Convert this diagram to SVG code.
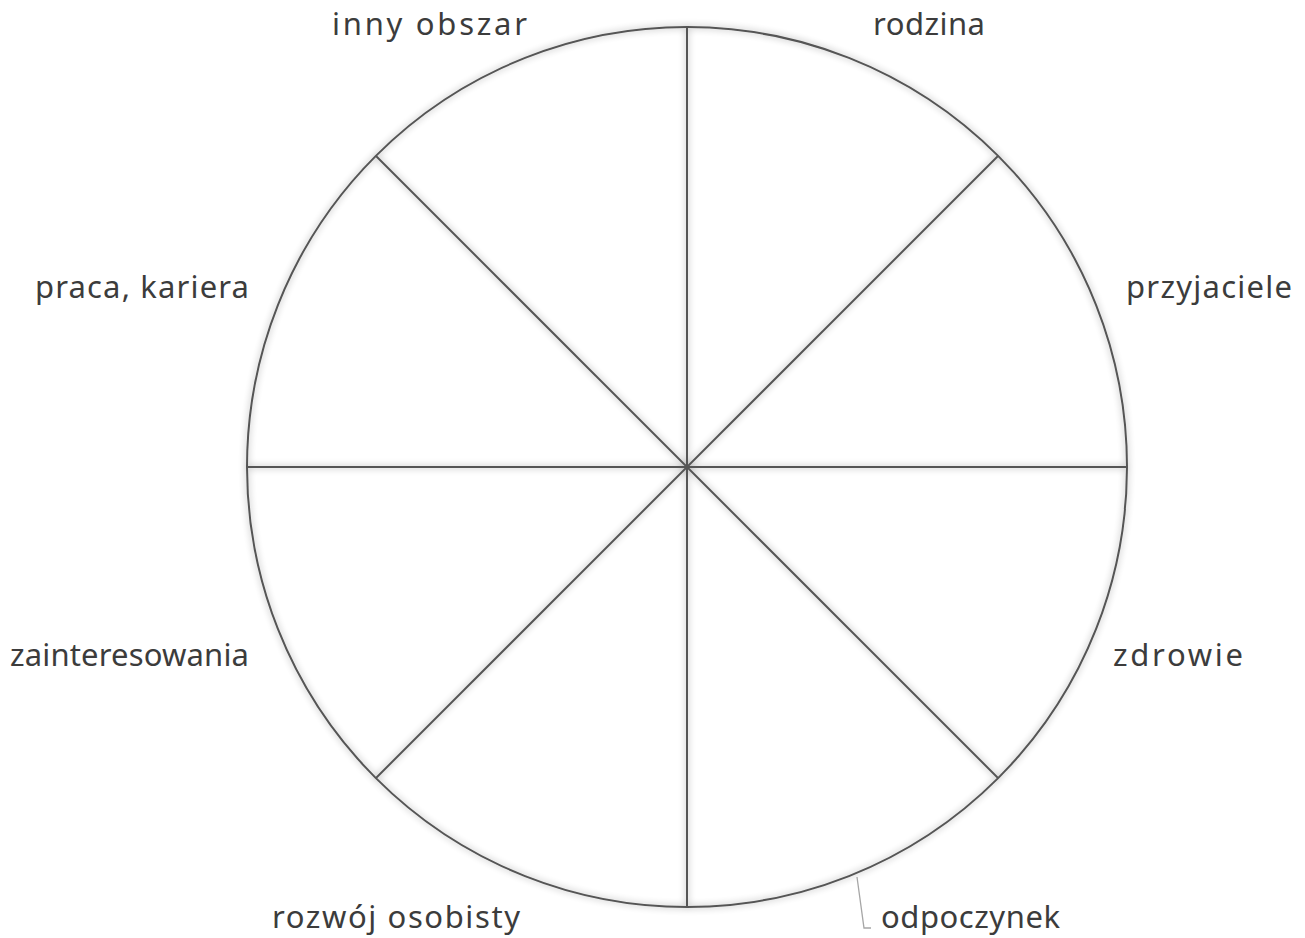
<svg xmlns="http://www.w3.org/2000/svg" width="1305" height="938" viewBox="0 0 1305 938">
<defs>
<filter id="sh" x="-10%" y="-10%" width="120%" height="120%">
<feGaussianBlur in="SourceAlpha" stdDeviation="3.5" result="b"/>
<feComponentTransfer in="b" result="s"><feFuncA type="linear" slope="0.4"/></feComponentTransfer>
<feMerge><feMergeNode in="s"/><feMergeNode in="SourceGraphic"/></feMerge>
</filter>
<style>
.ln{stroke:#555;stroke-width:2;fill:none}
.lb{font-family:"Noto Sans","Open Sans",sans-serif;font-size:31px;fill:#3c3c3c}
.ld{stroke:#a6a6a6;stroke-width:1.3;fill:none}
</style>
</defs>
<rect width="1305" height="938" fill="#fff"/>
<g id="wheel" filter="url(#sh)">
<circle class="ln" cx="687" cy="467" r="440" fill="#fff"/>
<line class="ln" x1="687" y1="27" x2="687" y2="907"/>
<line class="ln" x1="247" y1="467" x2="1127" y2="467"/>
<line class="ln" x1="376" y1="156" x2="998" y2="778"/>
<line class="ln" x1="998" y1="156" x2="376" y2="778"/>
</g>
<g id="connectors">
<polyline class="ld" points="857,877 864,928 871,928"/>
</g>
<g id="inny-obszar"><text class="lb" x="332" y="35" textLength="195">inny obszar</text></g>
<g id="rodzina"><text class="lb" x="873" y="35" textLength="112">rodzina</text></g>
<g id="praca-kariera"><text class="lb" x="35" y="298" textLength="214">praca, kariera</text></g>
<g id="przyjaciele"><text class="lb" x="1126" y="298" textLength="166">przyjaciele</text></g>
<g id="zainteresowania"><text class="lb" x="10" y="666" textLength="239">zainteresowania</text></g>
<g id="zdrowie"><text class="lb" x="1113" y="666" textLength="130">zdrowie</text></g>
<g id="rozwoj-osobisty"><text class="lb" x="272" y="928" textLength="248">rozwój osobisty</text></g>
<g id="odpoczynek"><text class="lb" x="881" y="928" textLength="179">odpoczynek</text></g>
</svg>
